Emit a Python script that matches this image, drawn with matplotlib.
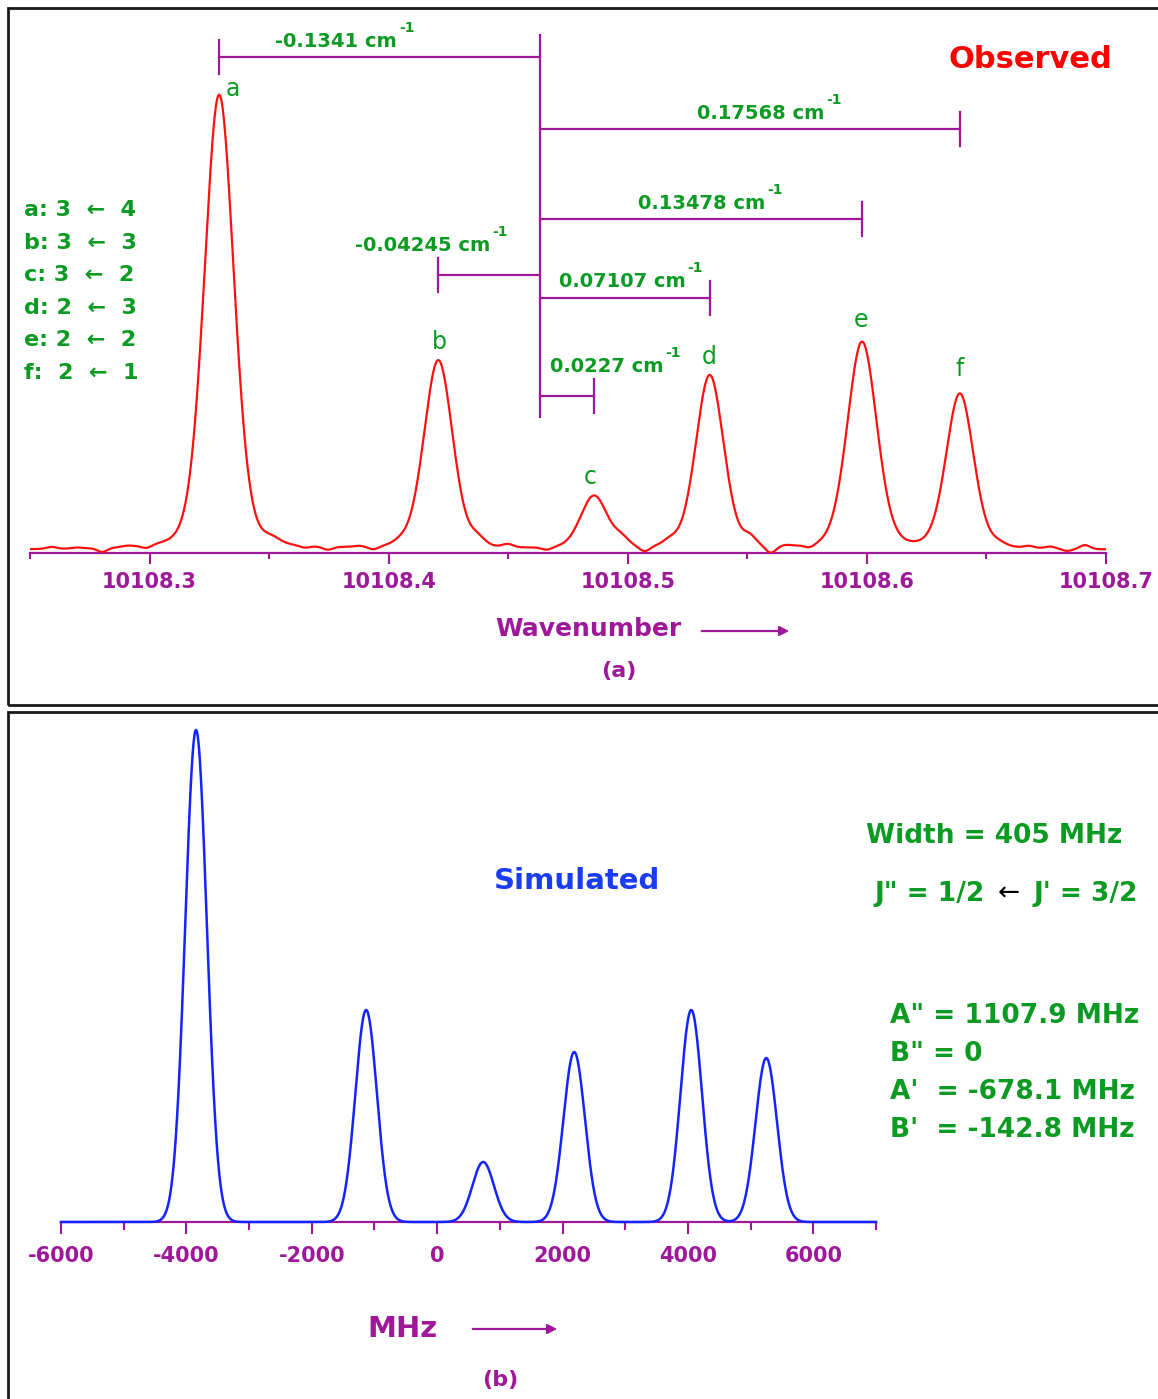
import numpy as np
import matplotlib
matplotlib.use('Agg')
import matplotlib.pyplot as plt
from matplotlib.patches import Rectangle
from matplotlib.ticker import MultipleLocator, FormatStrFormatter

W, H = 1158, 1399

# --- (a) observed spectrum: hyperfine components a..f
letters = ['a', 'b', 'c', 'd', 'e', 'f']
center = 10108.4632                      # cm-1, reference line of the splittings
split = [-0.1341, -0.04245, 0.0227, 0.07107, 0.13478, 0.17568]
obs_height = [455, 189, 53, 174, 207, 155]
obs_fwhm = [0.0146, 0.0142, 0.0134, 0.0138, 0.0146, 0.0136]
# shoulders and baseline ripples of the recorded trace (position, amplitude, width)
ripple_pos = [10108.2590, 10108.2695, 10108.2803, 10108.2908, 10108.2987, 10108.3510,
              10108.3649, 10108.3745, 10108.3874, 10108.3937, 10108.4046, 10108.4372,
              10108.4498, 10108.4661, 10108.4975, 10108.5071, 10108.5176, 10108.5510,
              10108.5598, 10108.5665, 10108.5761, 10108.6552, 10108.6678, 10108.6766,
              10108.6837, 10108.6912]
ripple_amp = [2, 1, -4, 1, -3, 5, -2, -3, 1, -3, 3, 7, 3, -2.5, 7, -5, 5, 8,
              -7, 1, -3, 3, 2, 2, -2, 4]
ripple_w = [0.005, 0.005, 0.005, 0.005, 0.005, 0.008, 0.005, 0.005, 0.005, 0.005,
            0.007, 0.007, 0.005, 0.005, 0.007, 0.005, 0.007, 0.006, 0.005, 0.005,
            0.005, 0.007, 0.005, 0.005, 0.005, 0.005]
transitions = ['a: 3  \u2190  4', 'b: 3  \u2190  3', 'c: 3  \u2190  2',
               'd: 2  \u2190  3', 'e: 2  \u2190  2', 'f:  2  \u2190  1']

# --- (b) simulated spectrum
sim_pos = [-3846, -1133, 734, 2186, 4053, 5250]      # MHz
sim_height = [492, 212, 60, 170, 212, 164]
sim_width = 405                                       # MHz FWHM
params = ['A" = 1107.9 MHz', 'B" = 0', "A'  = -678.1 MHz", "B'  = -142.8 MHz"]

mag = '#a0189a'
green = '#0b9a22'
plt.rcParams['font.family'] = ['DejaVu Sans']
plt.rcParams['font.weight'] = 'bold'
plt.rcParams['axes.unicode_minus'] = False


def pvoigt(x, x0, h, fwhm, eta=0.2):
    u = (x - x0) / (fwhm / 2)
    return h * ((1 - eta) * np.exp(-np.log(2) * u ** 2) + eta / (1 + u ** 2))


fig = plt.figure(figsize=(W / 100, H / 100), dpi=100)


def put(px, py, s, **kw):
    return fig.text(px / W, 1 - py / H, s, **kw)


# panel frames
fig.add_artist(Rectangle((8 / W, 1 - 705 / H), 1.5, (705 - 8) / H, transform=fig.transFigure,
                         fill=False, lw=2, ec='#1a1a1a'))
fig.add_artist(Rectangle((8 / W, -0.2), 1.5, 1 - 712 / H + 0.2, transform=fig.transFigure,
                         fill=False, lw=2, ec='#1a1a1a'))

# ---------------- top panel ----------------
ax1 = fig.add_axes([30 / W, 1 - 553 / H, 1076 / W, (553 - 8) / H])
x = np.linspace(10108.25, 10108.7, 3000)
pos = [center + s for s in split]
y = np.zeros_like(x)
for p, h, w in zip(pos, obs_height, obs_fwhm):
    y += pvoigt(x, p, h, w)
for p, a, w in zip(ripple_pos, ripple_amp, ripple_w):
    y += pvoigt(x, p, a, w, eta=0)
ax1.plot(x, y, color='#ff1010', lw=1.6, zorder=3)
ax1.set_xlim(10108.25, 10108.7)
ax1.set_ylim(-3, 542)

# splitting brackets
lvl = {'a': 493, 'f': 421, 'e': 331, 'b': 275, 'd': 252, 'c': 154}
ax1.plot([center, center], [133, 515], color=mag, lw=1.6)
for i, L in enumerate(letters):
    yy = lvl[L]
    ax1.plot([center, pos[i]], [yy, yy], color=mag, lw=1.6)
    ax1.plot([pos[i], pos[i]], [yy - 17, yy + 17], color=mag, lw=1.6)

lab_xy = {'a': (275, 47), 'f': (697, 119), 'e': (638, 209), 'b': (355, 251),
          'd': (559, 287), 'c': (550, 372)}
for i, L in enumerate(letters):
    lx, ly = lab_xy[L]
    t = put(lx, ly, f'{split[i]:g} cm', color=green, fontsize=14, va='baseline')
    ax1.annotate('-1', xy=(1, 1 - (ly - 15) / H), xycoords=(t, 'figure fraction'),
                 xytext=(2, 0), textcoords='offset pixels', color=green,
                 fontsize=10, va='baseline', ha='left')

# peak letters
let_xy = [(233, 96), (439, 349), (590, 484), (709, 364), (861, 327), (960, 376)]
for L, (lx, ly) in zip(letters, let_xy):
    put(lx, ly, L, color=green, fontsize=17, fontweight='normal', ha='center', va='baseline')

for k, s in enumerate(transitions):
    put(24, 216 + 32.6 * k, s, color=green, fontsize=16, va='baseline')

put(948, 68, 'Observed', color='#ff0000', fontsize=22, va='baseline')

for sp in ['left', 'right', 'top']:
    ax1.spines[sp].set_visible(False)
ax1.spines['bottom'].set_color(mag)
ax1.spines['bottom'].set_linewidth(1.6)
ax1.set_yticks([])
ax1.xaxis.set_major_locator(MultipleLocator(0.1))
ax1.xaxis.set_minor_locator(MultipleLocator(0.05))
ax1.xaxis.set_major_formatter(FormatStrFormatter('%.1f'))
ax1.tick_params(axis='x', which='major', direction='out', length=8, width=1.5,
                color=mag, labelcolor=mag, labelsize=15, pad=6)
ax1.tick_params(axis='x', which='minor', direction='out', length=4, width=1.5, color=mag)
for t in ax1.get_xticklabels():
    t.set_fontweight('bold')

put(495, 629, 'Wavenumber', color=mag, fontsize=18, va='center')
ax1.annotate('', xy=(792 / W, 1 - 631 / H), xytext=(699 / W, 1 - 631 / H),
             xycoords='figure fraction',
             arrowprops=dict(arrowstyle='-|>', color=mag, lw=1.6, mutation_scale=14))
put(619, 671, '(a)', color=mag, fontsize=16, ha='center', va='center')

# ---------------- bottom panel ----------------
ax2 = fig.add_axes([61 / W, 1 - 1222 / H, 815 / W, (1222 - 712) / H])
xs = np.linspace(-6000, 7000, 3000)
ys = np.zeros_like(xs)
for p, h in zip(sim_pos, sim_height):
    ys += pvoigt(xs, p, h, sim_width, eta=0)
ax2.plot(xs, ys, color='#1424ff', lw=1.8, zorder=3, clip_on=False)
ax2.set_xlim(-6000, 7000)
ax2.set_ylim(0, 510)
for sp in ['left', 'right', 'top']:
    ax2.spines[sp].set_visible(False)
ax2.spines['bottom'].set_color(mag)
ax2.spines['bottom'].set_linewidth(1.6)
ax2.set_yticks([])
ax2.xaxis.set_major_locator(MultipleLocator(2000))
ax2.xaxis.set_minor_locator(MultipleLocator(1000))
ax2.tick_params(axis='x', which='major', direction='out', length=8.5, width=1.5,
                color=mag, labelcolor=mag, labelsize=15, pad=9)
ax2.tick_params(axis='x', which='minor', direction='out', length=5.5, width=1.5, color=mag)
for t in ax2.get_xticklabels():
    t.set_fontweight('bold')

put(494, 889, 'Simulated', color='#1a3cf5', fontsize=21, va='baseline')
put(866, 843, 'Width = %d MHz' % sim_width, color=green, fontsize=19, va='baseline')
put(874, 901, 'J" = 1/2', color=green, fontsize=19, va='baseline')
put(998, 901, '\u2190', color='black', fontsize=19, fontweight='normal', va='baseline')
put(1033, 901, "J' = 3/2", color=green, fontsize=19, va='baseline')
for k, s in enumerate(params):
    put(890, 1023 + 38 * k, s, color=green, fontsize=19, va='baseline')

put(367, 1337, 'MHz', color=mag, fontsize=21, va='baseline')
ax2.annotate('', xy=(560 / W, 1 - 1329 / H), xytext=(470 / W, 1 - 1329 / H),
             xycoords='figure fraction',
             arrowprops=dict(arrowstyle='-|>', color=mag, lw=1.6, mutation_scale=14))
put(500, 1380, '(b)', color=mag, fontsize=16, ha='center', va='center')

fig.savefig('out.png', dpi=100)
